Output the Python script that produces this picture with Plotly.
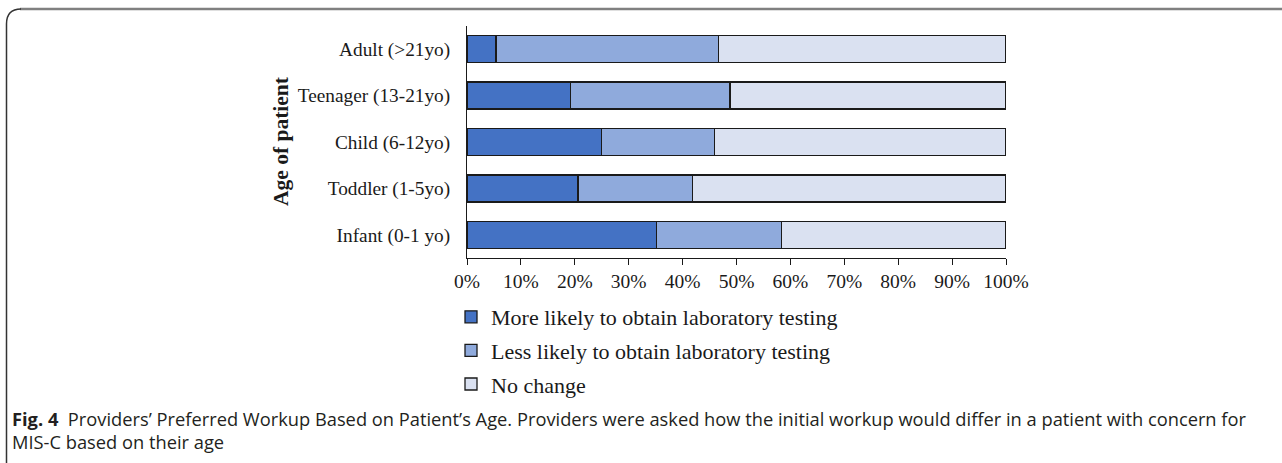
import plotly.graph_objects as go

# data (percent of providers)
age_groups = ["Infant (0-1 yo)", "Toddler (1-5yo)", "Child (6-12yo)",
              "Teenager (13-21yo)", "Adult (>21yo)"]
series_names = ["More likely to obtain laboratory testing",
                "Less likely to obtain laboratory testing",
                "No change"]
more_likely = [35.2, 20.6, 24.9, 19.2, 5.4]
less_likely = [23.2, 21.2, 21.0, 29.6, 41.2]
no_change = [41.6, 58.2, 54.1, 51.2, 53.4]
x_ticks = [0, 10, 20, 30, 40, 50, 60, 70, 80, 90, 100]

colors = ["#4472C4", "#8FAADC", "#DAE1F1"]

W, H = 1282, 463


def px_x(x):
    return x / W


def px_y(y):
    return 1 - y / H


fig = go.Figure()
for name, vals, col in zip(series_names, [more_likely, less_likely, no_change], colors):
    fig.add_trace(go.Bar(
        y=age_groups, x=vals, name=name, orientation="h",
        marker=dict(color=col, line=dict(color="#1a1a1a", width=1.3)),
        legendgroup=name,
    ))

serif = "Liberation Serif, Times New Roman, serif"

fig.update_layout(
    width=W, height=H,
    margin=dict(l=0, r=0, t=0, b=0),
    paper_bgcolor="white", plot_bgcolor="white",
    barmode="stack", bargap=0.42,
    font=dict(family=serif, color="#1a1a1a"),
    xaxis=dict(
        domain=[px_x(467), px_x(1006)], range=[0, 100],
        tickvals=x_ticks, ticktext=[f"{t}%" for t in x_ticks],
        showgrid=False, zeroline=False,
        showline=True, linecolor="#1a1a1a", linewidth=1,
        ticks="outside", ticklen=6, tickcolor="#1a1a1a",
        tickfont=dict(size=19.5, family=serif),
        automargin=False,
    ),
    yaxis=dict(
        domain=[px_y(258), px_y(26)],
        showgrid=False, zeroline=False,
        showline=True, linecolor="#1a1a1a", linewidth=1,
        ticks="", ticklabelstandoff=12,
        tickfont=dict(size=19.3, family=serif),
        automargin=False,
    ),
    legend=dict(
        x=px_x(451), y=px_y(296), xanchor="left", yanchor="top",
        traceorder="grouped", tracegroupgap=2,
        font=dict(size=22, family=serif),
        bgcolor="rgba(0,0,0,0)",
        itemwidth=30,
    ),
    showlegend=True,
)

# y-axis title
fig.add_annotation(
    x=px_x(281), y=px_y(141), xref="paper", yref="paper",
    xanchor="center", yanchor="middle",
    text="<b>Age of patient</b>", textangle=-90, showarrow=False,
    font=dict(size=21.5, family=serif, color="#1a1a1a"),
)

# caption
cap_font = "Open Sans, sans-serif"
fig.add_annotation(
    x=px_x(10), y=px_y(418), xref="paper", yref="paper",
    xanchor="left", yanchor="middle", showarrow=False,
    text="<b>Fig. 4</b>  Providers\u2019 Preferred Workup Based on Patient\u2019s Age. "
         "Providers were asked how the initial workup would differ in a patient with concern for",
    font=dict(size=18.3, family=cap_font, color="#231f20"),
)
fig.add_annotation(
    x=px_x(10), y=px_y(441), xref="paper", yref="paper",
    xanchor="left", yanchor="middle", showarrow=False,
    text="MIS-C based on their age",
    font=dict(size=18.3, family=cap_font, color="#231f20"),
)

# frame around the figure
fig.add_shape(type="line", xref="paper", yref="paper",
              x0=px_x(20), x1=px_x(1282), y0=px_y(9), y1=px_y(9),
              line=dict(color="#808080", width=2.5))
corner = (f"M {px_x(6.5)},{px_y(463)} L {px_x(6.5)},{px_y(24)} "
          f"Q {px_x(6.5)},{px_y(9)} {px_x(21)},{px_y(9)}")
fig.add_shape(type="path", xref="paper", yref="paper", path=corner,
              line=dict(color="#333333", width=1.5))

fig.write_html("out.html", config={"displayModeBar": False},
               post_script="document.body.style.margin = '0';")
